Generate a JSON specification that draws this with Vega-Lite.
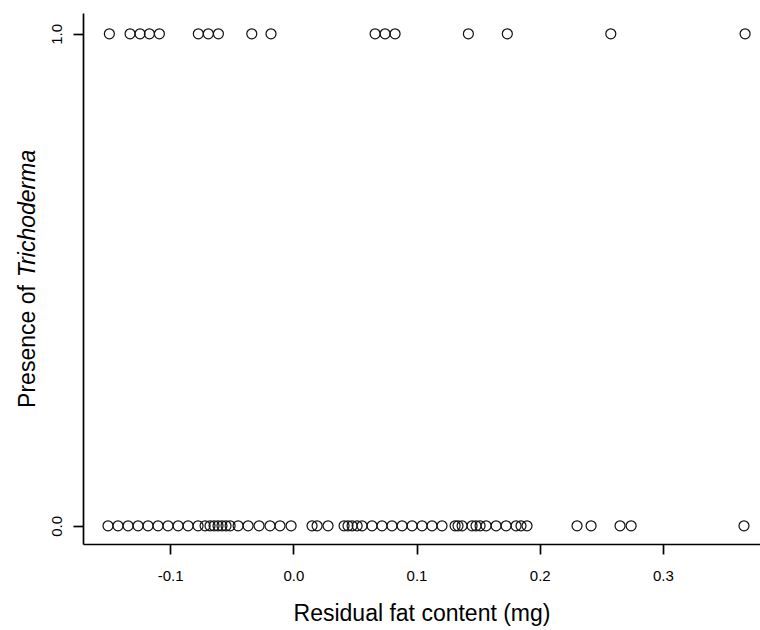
{
  "$schema": "https://vega.github.io/schema/vega-lite/v6.json",
  "width": 677,
  "height": 531,
  "autosize": "none",
  "padding": {"left": 83, "top": 13, "right": 0, "bottom": 86},
  "background": "white",
  "config": {
    "view": {"stroke": null},
    "font": "Liberation Sans",
    "axis": {
      "grid": false,
      "domainColor": "black",
      "domainWidth": 1.7,
      "tickColor": "black",
      "tickWidth": 1.7,
      "tickSize": 10,
      "labelColor": "black",
      "labelFontSize": 15,
      "titleColor": "black",
      "titleFontWeight": "normal",
      "titleFontSize": 23
    }
  },
  "data": {
    "values": [
      {"residual": -0.1493, "presence": 1},
      {"residual": -0.1325, "presence": 1},
      {"residual": -0.1244, "presence": 1},
      {"residual": -0.1168, "presence": 1},
      {"residual": -0.1087, "presence": 1},
      {"residual": -0.0771, "presence": 1},
      {"residual": -0.069, "presence": 1},
      {"residual": -0.0608, "presence": 1},
      {"residual": -0.0337, "presence": 1},
      {"residual": -0.0181, "presence": 1},
      {"residual": 0.0664, "presence": 1},
      {"residual": 0.0745, "presence": 1},
      {"residual": 0.0826, "presence": 1},
      {"residual": 0.1421, "presence": 1},
      {"residual": 0.1737, "presence": 1},
      {"residual": 0.2577, "presence": 1},
      {"residual": 0.3667, "presence": 1},
      {"residual": -0.1504, "presence": 0},
      {"residual": -0.1423, "presence": 0},
      {"residual": -0.1341, "presence": 0},
      {"residual": -0.126, "presence": 0},
      {"residual": -0.1179, "presence": 0},
      {"residual": -0.1098, "presence": 0},
      {"residual": -0.1017, "presence": 0},
      {"residual": -0.0935, "presence": 0},
      {"residual": -0.0854, "presence": 0},
      {"residual": -0.0773, "presence": 0},
      {"residual": -0.0716, "presence": 0},
      {"residual": -0.0676, "presence": 0},
      {"residual": -0.0643, "presence": 0},
      {"residual": -0.0611, "presence": 0},
      {"residual": -0.0579, "presence": 0},
      {"residual": -0.0546, "presence": 0},
      {"residual": -0.0513, "presence": 0},
      {"residual": -0.0448, "presence": 0},
      {"residual": -0.0367, "presence": 0},
      {"residual": -0.0278, "presence": 0},
      {"residual": -0.0189, "presence": 0},
      {"residual": -0.0108, "presence": 0},
      {"residual": -0.0018, "presence": 0},
      {"residual": 0.0152, "presence": 0},
      {"residual": 0.0193, "presence": 0},
      {"residual": 0.0282, "presence": 0},
      {"residual": 0.0412, "presence": 0},
      {"residual": 0.0444, "presence": 0},
      {"residual": 0.0477, "presence": 0},
      {"residual": 0.0518, "presence": 0},
      {"residual": 0.0558, "presence": 0},
      {"residual": 0.0639, "presence": 0},
      {"residual": 0.072, "presence": 0},
      {"residual": 0.0801, "presence": 0},
      {"residual": 0.0883, "presence": 0},
      {"residual": 0.0964, "presence": 0},
      {"residual": 0.1045, "presence": 0},
      {"residual": 0.1126, "presence": 0},
      {"residual": 0.1207, "presence": 0},
      {"residual": 0.1313, "presence": 0},
      {"residual": 0.1337, "presence": 0},
      {"residual": 0.137, "presence": 0},
      {"residual": 0.1451, "presence": 0},
      {"residual": 0.1483, "presence": 0},
      {"residual": 0.1516, "presence": 0},
      {"residual": 0.1565, "presence": 0},
      {"residual": 0.1646, "presence": 0},
      {"residual": 0.1727, "presence": 0},
      {"residual": 0.1808, "presence": 0},
      {"residual": 0.1848, "presence": 0},
      {"residual": 0.1897, "presence": 0},
      {"residual": 0.2303, "presence": 0},
      {"residual": 0.2417, "presence": 0},
      {"residual": 0.2652, "presence": 0},
      {"residual": 0.2742, "presence": 0},
      {"residual": 0.3658, "presence": 0}
    ]
  },
  "layer": [
    {
      "mark": {"type": "point", "shape": "circle", "filled": false, "size": 100, "stroke": "#111111", "strokeWidth": 1.2, "opacity": 1},
      "encoding": {
        "x": {
          "field": "residual",
          "type": "quantitative",
          "scale": {"domain": [-0.1707, 0.3788], "nice": false, "zero": false},
          "axis": {
            "values": [-0.1, 0, 0.1, 0.2, 0.3],
            "labelExpr": "replace(format(datum.value, '.1f'), '\u2212', '-')",
            "labelFontSize": 15,
            "labelPadding": 14,
            "title": "Residual fat content (mg)",
            "titlePadding": 19
          }
        },
        "y": {
          "field": "presence",
          "type": "quantitative",
          "scale": {"domain": [-0.037, 1.0423], "nice": false, "zero": false},
          "axis": {
            "orient": "left",
            "values": [0, 1],
            "format": ".1f",
            "labelFontSize": 15,
            "labelAngle": -90,
            "labelAlign": "center",
            "labelBaseline": "bottom",
            "labelPadding": 9,
            "title": "Presence of",
            "titleAngle": -90,
            "titleAlign": "center",
            "titleBaseline": "bottom",
            "titleX": -44,
            "titleY": 333
          }
        }
      }
    },
    {
      "mark": {"type": "point", "shape": "circle", "filled": false, "size": 100, "opacity": 0},
      "encoding": {
        "x": {"field": "residual", "type": "quantitative"},
        "y": {
          "field": "presence",
          "type": "quantitative",
          "axis": {
            "orient": "left",
            "domain": false,
            "ticks": false,
            "labels": false,
            "title": "Trichoderma",
            "titleFontStyle": "italic",
            "titleAngle": -90,
            "titleAlign": "center",
            "titleBaseline": "bottom",
            "titleX": -44,
            "titleY": 200
          }
        }
      }
    }
  ],
  "resolve": {"axis": {"y": "independent"}}
}
